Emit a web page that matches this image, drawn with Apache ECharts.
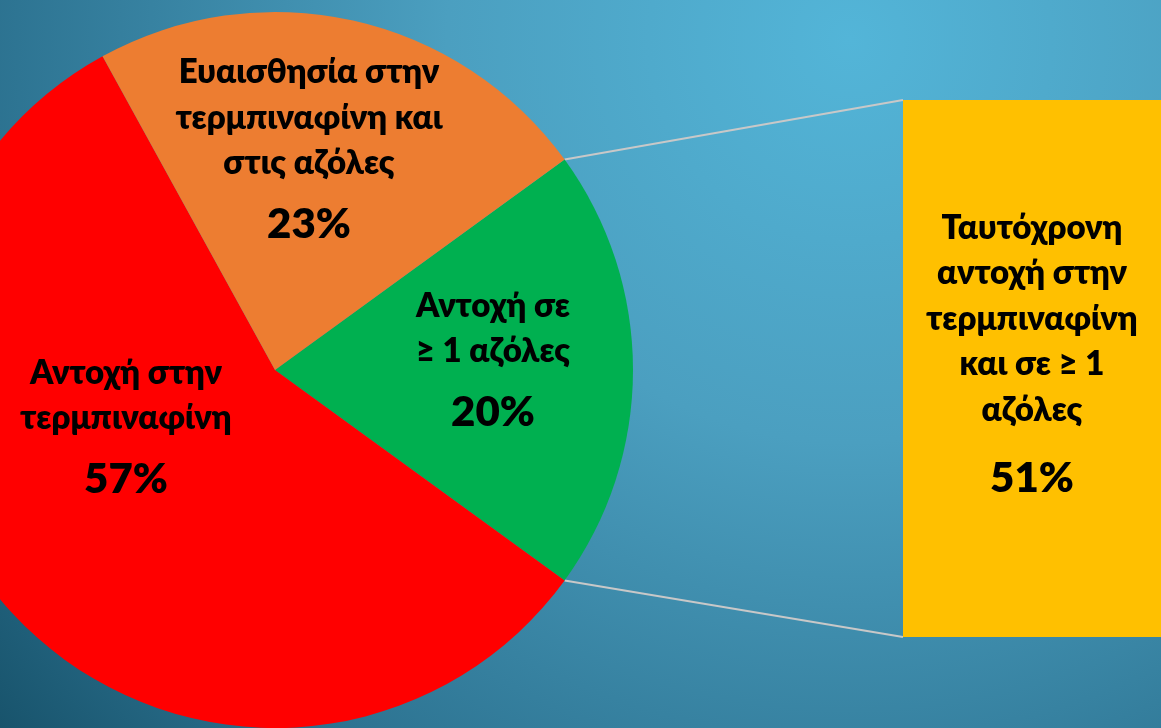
<!DOCTYPE html>
<html>
<head>
<meta charset="utf-8">
<script src="https://cdn.jsdelivr.net/npm/echarts@6/dist/echarts.min.js"></script>
<style>
  html, body { margin: 0; padding: 0; }
  #main { width: 1161px; height: 728px; }
</style>
</head>
<body>
<div id="main"></div>
<script>
// pie slices (clockwise from the upper edge of the green slice)
var pieNames = ['Αντοχή σε\n≥ 1 αζόλες', 'Αντοχή στην\nτερμπιναφίνη', 'Ευαισθησία στην\nτερμπιναφίνη και\nστις αζόλες'];
var pieValues = [20, 57, 23];
var pieColors = ['#00B050', '#FF0000', '#ED7D31'];

// breakdown bar
var barNames = ['Ταυτόχρονη\nαντοχή στην\nτερμπιναφίνη\nκαι σε ≥ 1\nαζόλες'];
var barValues = [51];

// layout
var pieCenter = [275, 370], pieRadius = 358;
var labelCenters = [[493, 367], [126, 434], [309, 156]];
var barBox = { left: 903, top: 100, width: 274, height: 537 };
var font = 'Lato, "Open Sans", sans-serif';

var myChart = echarts.init(document.getElementById('main'));

var slices = pieNames.map(function (n, i) {
    return { name: n, value: pieValues[i], itemStyle: { color: pieColors[i] } };
});

var richStyle = function (pctLine) {
    return {
        n: { fontSize: 33, fontWeight: 800, lineHeight: 45.5, color: '#000', fontFamily: font, align: 'center' },
        p: { fontSize: 42, fontWeight: 800, lineHeight: pctLine, color: '#000', fontFamily: font, align: 'center' }
    };
};
var fmt = function (p) { return '{n|' + p.name.split('\n').join('}\n{n|') + '}\n{p|' + p.value + '%}'; };

var option = {
    animation: false,
    backgroundColor: {
        type: 'radial', x: 850, y: 40, r: 1150, global: true,
        colorStops: [
            { offset: 0, color: '#53B5D8' },
            { offset: 0.35, color: '#4B9FC0' },
            { offset: 0.75, color: '#2C7290' },
            { offset: 1, color: '#134C63' }
        ]
    },
    grid: { left: barBox.left, top: barBox.top, width: barBox.width, height: barBox.height },
    xAxis: { type: 'category', data: barNames, show: false },
    yAxis: { type: 'value', min: 0, max: 'dataMax', show: false },
    series: [{
        type: 'pie',
        center: pieCenter,
        radius: pieRadius,
        startAngle: 36,
        clockwise: true,
        silent: true,
        data: slices,
        label: {
            show: true,
            position: 'inside',
            color: '#000',
            fontFamily: font,
            formatter: fmt,
            rich: richStyle(76)
        },
        labelLine: { show: false },
        labelLayout: function (params) {
            var c = labelCenters[params.dataIndex];
            return { x: c[0], y: c[1], align: 'center', verticalAlign: 'middle' };
        }
    }, {
        type: 'bar',
        data: barValues,
        barWidth: '100%',
        silent: true,
        itemStyle: { color: '#FFC000' },
        label: {
            show: true,
            position: 'inside',
            offset: [0, -4],
            color: '#000',
            fontFamily: font,
            formatter: fmt,
            rich: richStyle(91)
        }
    }]
};
myChart.setOption(option);

// connector lines from the green slice edges to the bar corners
var a = 36 * Math.PI / 180;
var px = pieCenter[0] + pieRadius * Math.cos(a);
var pyTop = pieCenter[1] - pieRadius * Math.sin(a);
var pyBot = pieCenter[1] + pieRadius * Math.sin(a);
var lineStyle = { stroke: '#C8C8C8', lineWidth: 2 };
myChart.setOption({
    graphic: [
        { type: 'line', silent: true, shape: { x1: px, y1: pyTop, x2: barBox.left, y2: barBox.top }, style: lineStyle },
        { type: 'line', silent: true, shape: { x1: px, y1: pyBot, x2: barBox.left, y2: barBox.top + barBox.height }, style: lineStyle }
    ]
});
</script>
</body>
</html>
